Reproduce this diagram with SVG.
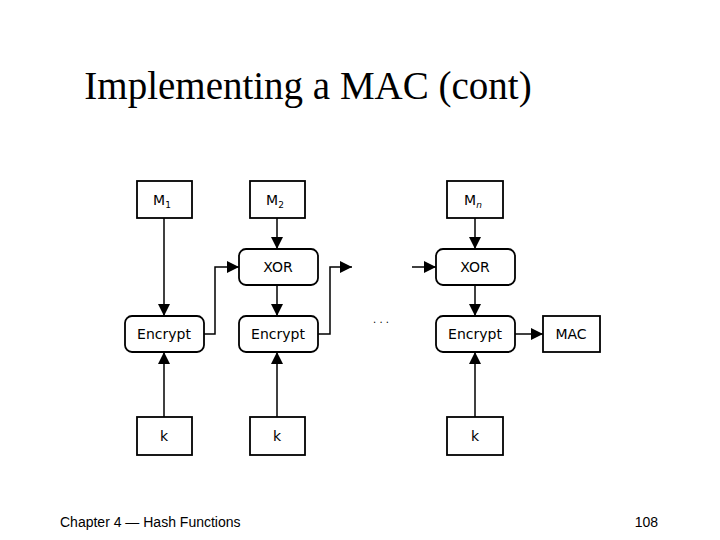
<svg xmlns="http://www.w3.org/2000/svg" width="720" height="540" viewBox="0 0 720 540">
<style>
.b{fill:#fff;stroke:#000;stroke-width:1.8}
.t{font-family:"DejaVu Sans",sans-serif;font-size:14px;text-anchor:middle}
.s{font-family:"DejaVu Sans",sans-serif;font-size:9px}
.c path{fill:none;stroke:#000;stroke-width:1.5}
</style>
<defs><marker id="a" viewBox="0 0 10 10" refX="10" refY="5" markerWidth="12" markerHeight="12" markerUnits="userSpaceOnUse" orient="auto"><path d="M0,0L10,5L0,10z"/></marker></defs>
<rect width="720" height="540" fill="#fff"/>
<text x="308" y="99" font-family="Liberation Serif,serif" font-size="39" text-anchor="middle">Implementing a MAC (cont)</text>
<text x="60" y="527" font-family="Liberation Sans,sans-serif" font-size="14">Chapter 4 — Hash Functions</text>
<text x="658" y="527" font-family="Liberation Sans,sans-serif" font-size="14" text-anchor="end">108</text>
<g class="c">
<path d="M164,218V316" marker-end="url(#a)"/>
<path d="M277,218V249" marker-end="url(#a)"/>
<path d="M475,218V249" marker-end="url(#a)"/>
<path d="M277,285V316" marker-end="url(#a)"/>
<path d="M475,285V316" marker-end="url(#a)"/>
<path d="M204,334H215V267H239" marker-end="url(#a)"/>
<path d="M318,334H330V267H352" marker-end="url(#a)"/>
<path d="M412,267H436" marker-end="url(#a)"/>
<path d="M515,334H543" marker-end="url(#a)"/>
<path d="M164,417V352" marker-end="url(#a)"/>
<path d="M277,417V352" marker-end="url(#a)"/>
<path d="M475,417V352" marker-end="url(#a)"/>
</g>
<g id="m1"><rect class="b" x="137" y="181" width="55" height="37"/><text class="t" x="162" y="205">M<tspan class="s" dy="3">1</tspan></text></g>
<g id="m2"><rect class="b" x="250" y="181" width="55" height="37"/><text class="t" x="275" y="205">M<tspan class="s" dy="3">2</tspan></text></g>
<g id="mn"><rect class="b" x="447" y="181" width="56" height="37"/><text class="t" x="473" y="205">M<tspan class="s" dy="3" font-style="italic">n</tspan></text></g>
<g id="xor2"><rect class="b" x="239" y="249" width="79" height="36" rx="7"/><text class="t" x="278" y="272">XOR</text></g>
<g id="xorn"><rect class="b" x="436" y="249" width="79" height="36" rx="7"/><text class="t" x="475" y="272">XOR</text></g>
<g id="e1"><rect class="b" x="125" y="316" width="79" height="36" rx="7"/><text class="t" x="164" y="339">Encrypt</text></g>
<g id="e2"><rect class="b" x="239" y="316" width="79" height="36" rx="7"/><text class="t" x="278" y="339">Encrypt</text></g>
<g id="en"><rect class="b" x="436" y="316" width="79" height="36" rx="7"/><text class="t" x="475" y="339">Encrypt</text></g>
<g id="mac"><rect class="b" x="543" y="316" width="57" height="36"/><text class="t" x="571" y="339">MAC</text></g>
<g id="k1"><rect class="b" x="137" y="417" width="55" height="38"/><text class="t" x="164" y="441">k</text></g>
<g id="k2"><rect class="b" x="250" y="417" width="55" height="38"/><text class="t" x="277" y="441">k</text></g>
<g id="kn"><rect class="b" x="447" y="417" width="56" height="38"/><text class="t" x="475" y="441">k</text></g>
<text x="381" y="323" font-family="DejaVu Sans,sans-serif" font-size="10" text-anchor="middle">. . .</text>
</svg>
